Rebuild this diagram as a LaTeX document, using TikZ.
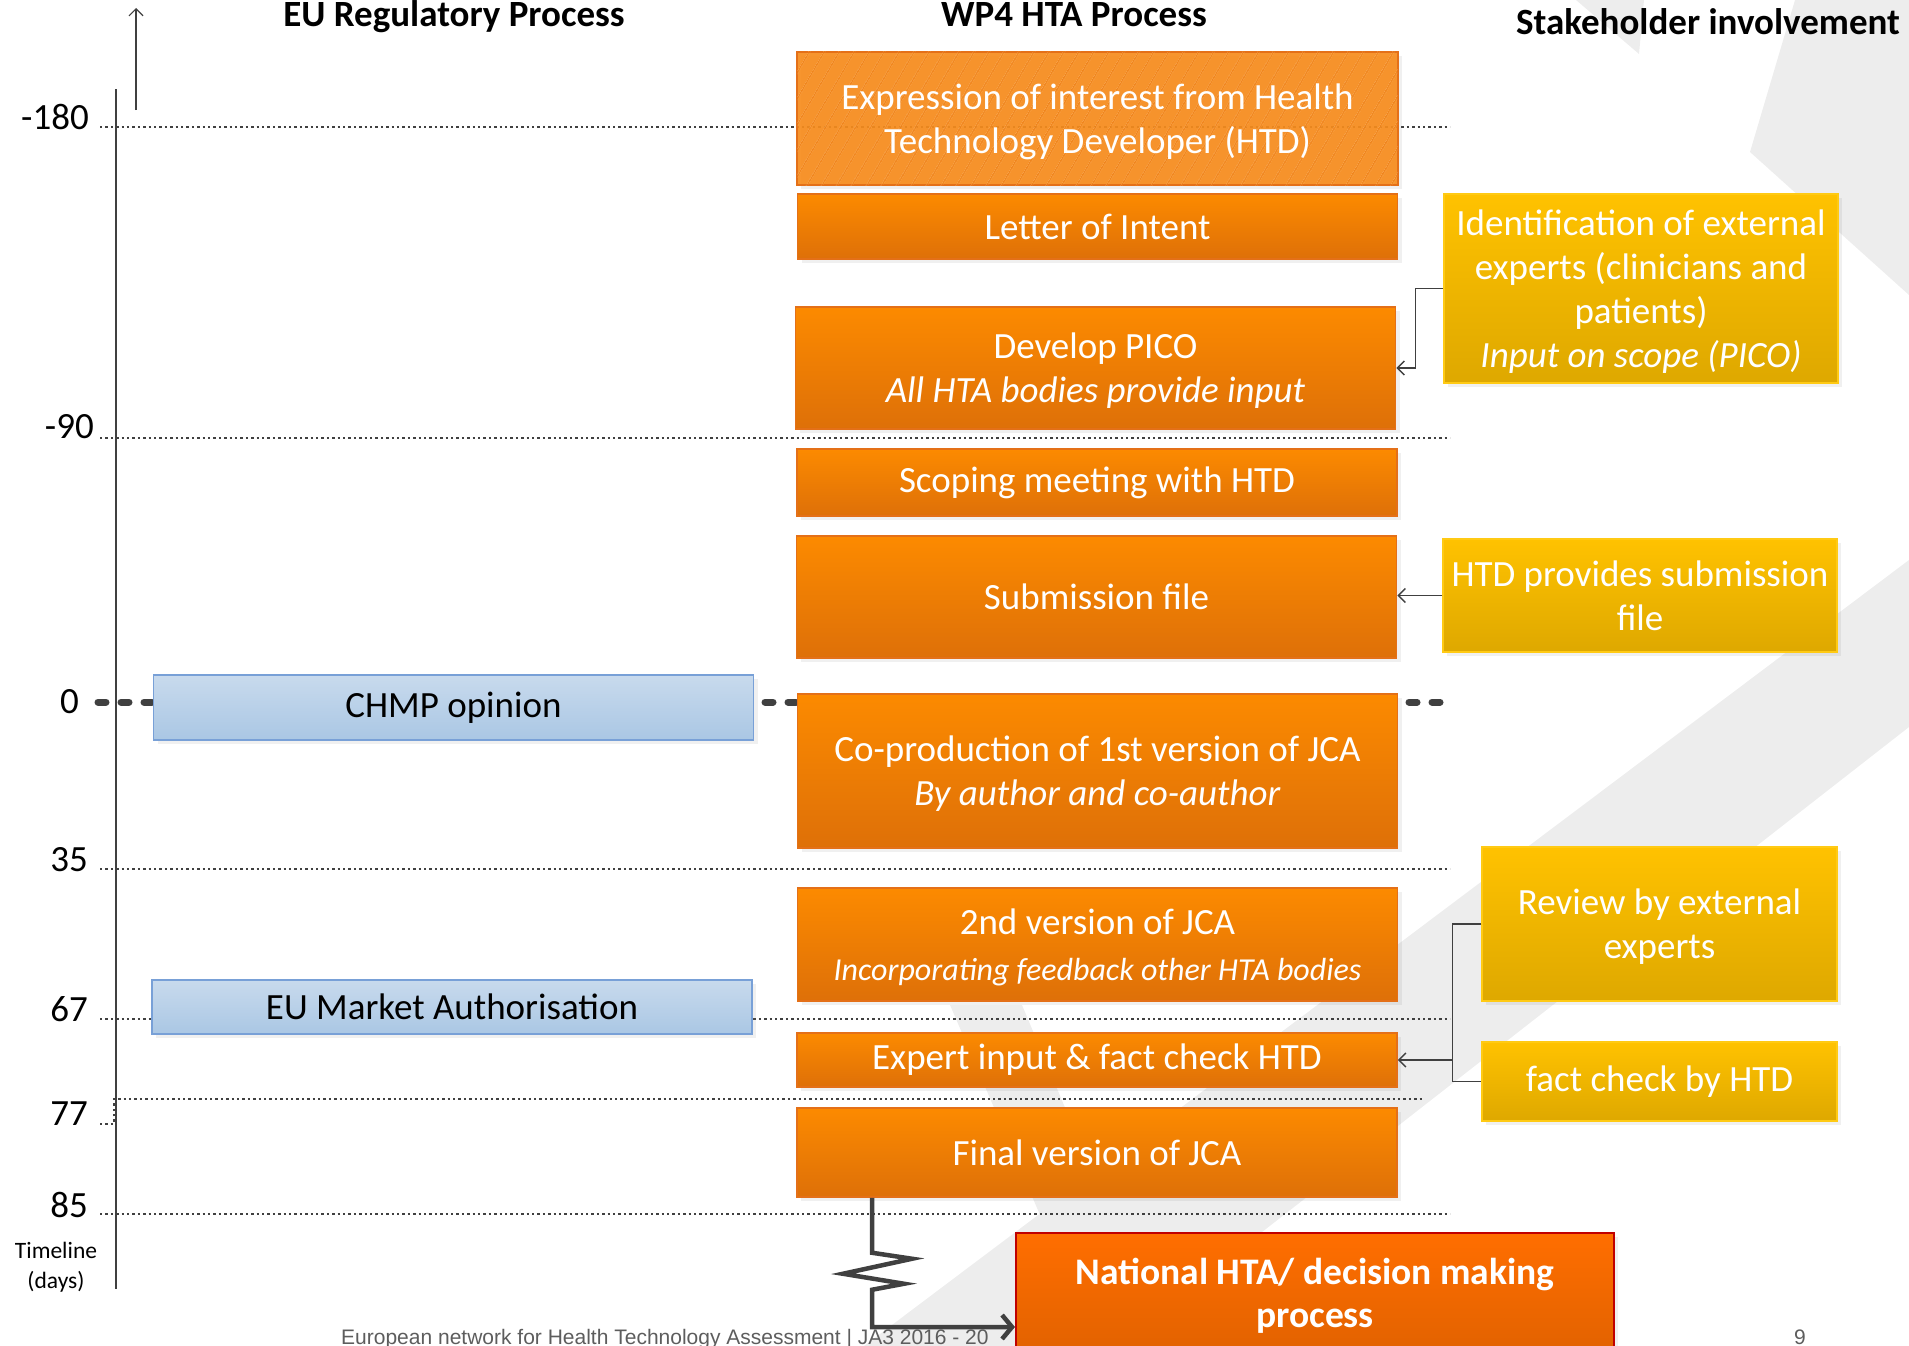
\documentclass[tikz,border=0pt]{standalone}
\usepackage{fontspec}
\setmainfont{Carlito}
\newfontfamily\footfont{Liberation Sans}
\usetikzlibrary{arrows.meta,shadows,patterns.meta,positioning}

\definecolor{orangetop}{RGB}{252,138,0}
\definecolor{orangebot}{RGB}{222,112,8}
\definecolor{orangeline}{RGB}{228,112,24}
\definecolor{exprfill}{RGB}{246,140,28}
\definecolor{exprhatch}{RGB}{236,124,20}
\definecolor{yellowtop}{RGB}{255,194,0}
\definecolor{yellowbot}{RGB}{222,168,0}
\definecolor{yellowline}{RGB}{255,202,20}
\definecolor{bluetop}{RGB}{200,218,237}
\definecolor{bluebot}{RGB}{170,199,228}
\definecolor{blueline}{RGB}{120,160,215}
\definecolor{natiotop}{RGB}{255,110,0}
\definecolor{natiobot}{RGB}{226,98,0}
\definecolor{natred}{RGB}{192,0,0}
\definecolor{linegray}{RGB}{64,64,64}
\definecolor{markgray}{RGB}{237,237,237}

\tikzset{
  boxbase/.style={rectangle, inner sep=0pt, align=center,
    font=\fontsize{37}{44}\selectfont,
    drop shadow={shadow xshift=4pt, shadow yshift=-4pt, opacity=0.12}},
  multi/.style={text depth=0pt},
  hta/.style={boxbase, text=white, draw=orangeline, line width=1.5pt,
    top color=orangetop, bottom color=orangebot, minimum width=600pt},
  stake/.style={boxbase, text=white, draw=yellowline, line width=1.5pt,
    top color=yellowtop, bottom color=yellowbot},
  ema/.style={boxbase, text=black, draw=blueline, line width=1.5pt,
    top color=bluetop, bottom color=bluebot, minimum width=600pt},
  coltitle/.style={anchor=base, inner sep=0pt, font=\fontsize{37}{44}\selectfont\bfseries},
  daylab/.style={anchor=east, inner sep=0pt, font=\fontsize{37}{44}\selectfont},
  dayline/.style={linegray, line width=2.2pt, dash pattern=on 2.4pt off 3pt},
  feed/.style={linegray, line width=1.5pt, -{Straight Barb[length=7pt,width=14pt]}},
  footer/.style={anchor=base west, inner sep=0pt, text=linegray!85, font=\footfont\fontsize{21}{26}\selectfont}
}

\begin{document}
\begin{tikzpicture}[x=1pt, y=-1pt]
\useasboundingbox (0,0) rectangle (1909,1346);

% Logo im Hintergrund
\fill[markgray] (864,1346) -- (1909,560) -- (1909,727) -- (1116,1346) -- cycle;
\fill[markgray] (950,1005) -- (1022,1005) -- (1110,1215) -- (1040,1215) -- cycle;
\fill[markgray] (1795,0) -- (1909,0) -- (1909,295) -- (1750,152) -- cycle;
\fill[markgray] (1576,0) -- (1644,0) -- (1639,54) -- cycle;

% Spaltentitel
\node[coltitle] (eutitle) at (454,27) {EU Regulatory Process};
\node[coltitle] (wptitle) at (1074,27) {WP4 HTA Process};
\node[coltitle] (sktitle) at (1708,35) {Stakeholder involvement};

% Zeitachse
\coordinate (upfoot) at (136,110);
\coordinate (uphead) at (136,8);
\draw[feed, line width=1.2pt] (upfoot) -- (uphead);
\draw[linegray, line width=2.5pt] (116,89) -- (116,1289);

% Tage
\foreach \yy in {127,438,869,1019,1214}
  \draw[dayline] (100,\yy) -- (1450,\yy);
\draw[dayline] (100,1124) -- (114,1124) -- (114,1099) -- (1424,1099);
\draw[linegray, line width=7pt, line cap=round, dash pattern=on 8pt off 15pt] (98,702) -- (1441,702);

\node[daylab] (d180) at (89,117) {-180};
\node[daylab] (d90) at (94,427) {-90};
\node[daylab] (d0) at (79,702) {0};
\node[daylab] (d35) at (88,860) {35};
\node[daylab] (d67) at (88,1009) {67};
\node[daylab] (d77) at (88,1114) {77};
\node[daylab] (d85) at (88,1205) {85};
\node[align=center, inner sep=0pt, font=\fontsize{23.5}{30}\selectfont] (tline) at (56,1267) {Timeline\\(days)};

% Fusszeile
\node[footer] (foot) at (341,1344) {European network for Health Technology Assessment | JA3 2016 - 20};
\node[footer, anchor=base] (pagenum) at (1800,1344) {9};

% EU-Prozess
\node[ema, minimum height=65pt] (chmp) at (453.5,707.5) {CHMP opinion};
\node[ema, minimum height=54pt] (euma) at (452,1007) {EU Market Authorisation};

% HTA-Prozess
\node[boxbase, multi, text=white, text opacity=1, draw=orangeline, line width=1.5pt,
  fill=exprfill, fill opacity=0.92, minimum width=601pt, minimum height=133pt,
  postaction={pattern={Lines[angle=60,distance=13pt,line width=1pt]}, pattern color=exprhatch}]
  (expr) at (1097.5,118.5) {Expression of interest from Health\\Technology Developer (HTD)};
\node[hta, minimum height=65pt] (loi) at (1097.5,226.5) {Letter of Intent};
\node[hta, multi, minimum height=122pt] (pico) at (1095.5,368) {Develop PICO\\\textit{All HTA bodies provide input}};
\node[hta, minimum height=67pt] (scope) at (1097,482.5) {Scoping meeting with HTD};
\node[hta, minimum height=122pt] (subm) at (1096.5,597) {Submission file};
\node[hta, multi, minimum height=154pt] (coprod) at (1097.5,771) {Co-production of 1st version of JCA\\\textit{By author and co-author}};
\node[hta, multi, minimum height=113pt] (second) at (1097.5,944.5)
  {2nd version of JCA\\[2pt]{\fontsize{32}{38}\selectfont\itshape Incorporating feedback other HTA bodies}};
\node[hta, minimum height=54pt] (expert) at (1097,1060) {Expert input \& fact check HTD};
\node[hta, minimum height=89pt] (final) at (1097,1152.5) {Final version of JCA};
\node[boxbase, multi, text=white, draw=natred, line width=2pt, top color=natiotop, bottom color=natiobot,
  minimum width=598pt, minimum height=119pt, font=\fontsize{37.5}{43}\selectfont\bfseries]
  (natio) at (1315,1292.5) {National HTA/ decision making\\process};

% Stakeholder
\node[stake, multi, minimum width=394pt, minimum height=189pt] (ident) at (1641,288.5)
  {Identification of external\\experts (clinicians and\\patients)\\\textit{Input on scope (PICO)}};
\node[stake, multi, minimum width=394pt, minimum height=113pt] (htdp) at (1640,595.5) {HTD provides submission\\file};
\node[stake, multi, minimum width=355pt, minimum height=154pt] (review) at (1659.5,924) {Review by external\\experts};
\node[stake, minimum width=355pt, minimum height=79pt] (factc) at (1659.5,1081.5) {fact check by HTD};

% Verbindungen
\draw[feed] (ident.west) -- ++(-28,0) |- (pico.east);
\draw[feed] (htdp.west) -- (htdp.west -| subm.east);
\coordinate[left=29pt of review.west] (brk);
\draw[linegray, line width=1.5pt] (review.west) -- (brk) |- (factc.west);
\draw[feed] (brk |- expert.east) -- (expert.east);

% Sprung zur nationalen Ebene
\coordinate (zbot) at (872,1327);
\draw[linegray, line width=4.5pt, line join=miter, -{Straight Barb[length=10pt,width=24pt]}]
  (final.south -| zbot) -- ++(0,55) -- ++(40,6) -- ++(-69,15) -- ++(61,10) -- ++(-32,6)
  -- (zbot) -- (zbot -| natio.west);
\end{tikzpicture}
\end{document}
